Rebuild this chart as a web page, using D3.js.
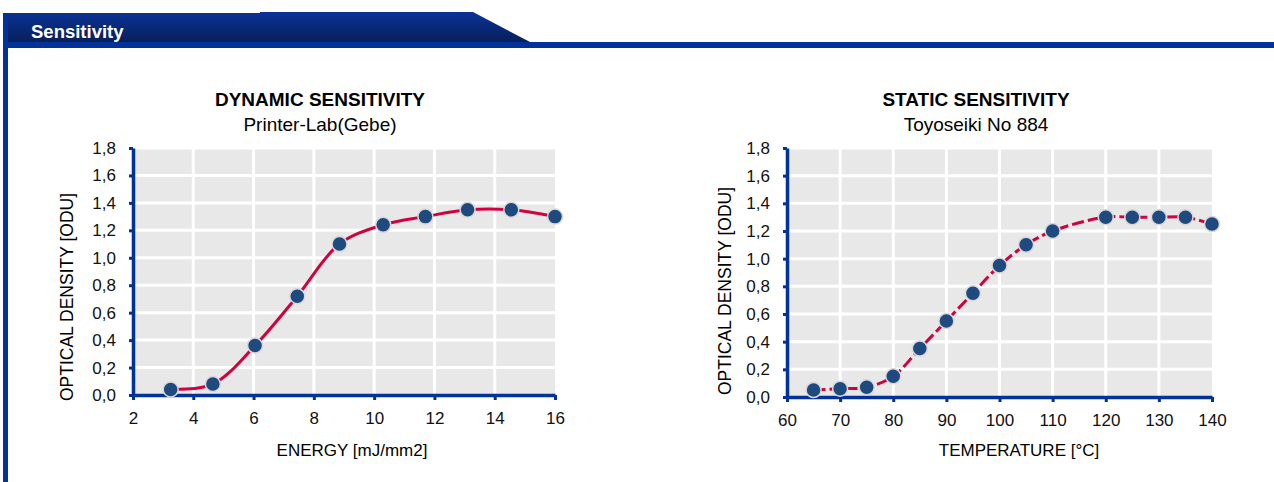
<!DOCTYPE html>
<html>
<head>
<meta charset="utf-8">
<script src="https://cdn.jsdelivr.net/npm/d3@7"></script>
<style>
  body { margin: 0; background: #fff; }
  svg text { font-family: "Liberation Sans", Arial, sans-serif; }
</style>
</head>
<body>
<div id="chart"></div>
<script>
// data
const energy = [3.25, 4.65, 6.05, 7.45, 8.85, 10.3, 11.7, 13.1, 14.55, 16.0];
const energyOD = [0.04, 0.08, 0.36, 0.72, 1.10, 1.24, 1.30, 1.35, 1.35, 1.30];
const temperature = [65, 70, 75, 80, 85, 90, 95, 100, 105, 110, 120, 125, 130, 135, 140];
const temperatureOD = [0.05, 0.06, 0.07, 0.15, 0.35, 0.55, 0.75, 0.95, 1.10, 1.20, 1.30, 1.30, 1.30, 1.30, 1.25];
const yTicks = [0, 0.2, 0.4, 0.6, 0.8, 1.0, 1.2, 1.4, 1.6, 1.8];
const energyTicks = [2, 4, 6, 8, 10, 12, 14, 16];
const tempTicks = [60, 70, 80, 90, 100, 110, 120, 130, 140];

const W = 1274, H = 482;
const blue = "#003399";

const svg = d3.select("#chart").append("svg")
    .attr("width", W)
    .attr("height", H);

// header gradient
const defs = svg.append("defs");
const grad = defs.append("linearGradient").attr("id", "hdr").attr("x1", 0).attr("y1", 0).attr("x2", 0).attr("y2", 1);
grad.append("stop").attr("offset", "0%").attr("stop-color", "#0a3396");
grad.append("stop").attr("offset", "100%").attr("stop-color", "#081f5a");

// header tab + rule + left stripe
svg.append("path")
    .attr("d", "M5,13 L260,13 L260,12 L473,12 L530,42 L5,42 Z")
    .attr("fill", "url(#hdr)");
svg.append("rect").attr("x", 3).attr("y", 42).attr("width", W - 3).attr("height", 6).attr("fill", blue);
svg.append("rect").attr("x", 3).attr("y", 13).attr("width", 5).attr("height", H - 13).attr("fill", blue);
svg.append("text")
    .attr("x", 31).attr("y", 38)
    .style("font-weight", "bold")
    .style("font-size", "18.5px")
    .attr("fill", "#fff")
    .text("Sensitivity");

function drawChart(opt) {
    const x = d3.scaleLinear().domain(opt.xDomain).range([opt.left, opt.right]);
    const y = d3.scaleLinear().domain([0, 1.8]).range([opt.bottom, opt.top]);
    const g = svg.append("g");

    // plot background
    g.append("rect")
        .attr("x", opt.left).attr("y", opt.top)
        .attr("width", opt.right - opt.left).attr("height", opt.bottom - opt.top)
        .attr("fill", "#e8e8e8");

    // white grid
    g.selectAll(".vg").data(opt.xTicks.slice(1, -1)).join("line")
        .attr("x1", d => x(d)).attr("x2", d => x(d))
        .attr("y1", opt.top).attr("y2", opt.bottom)
        .attr("stroke", "#fff").attr("stroke-width", 3);
    g.selectAll(".hg").data(yTicks.slice(1)).join("line")
        .attr("x1", opt.left).attr("x2", opt.right)
        .attr("y1", d => y(d)).attr("y2", d => y(d))
        .attr("stroke", "#fff").attr("stroke-width", 3);

    // axes
    const xAxis = g.append("g")
        .attr("transform", `translate(0,${opt.bottom})`)
        .call(d3.axisBottom(x).tickValues(opt.xTicks).tickSize(5).tickPadding(12).tickSizeOuter(0));
    const yAxis = g.append("g")
        .attr("transform", `translate(${opt.left},0)`)
        .call(d3.axisLeft(y).tickValues(yTicks).tickSize(4).tickPadding(13).tickSizeOuter(0)
            .tickFormat(d => d3.format(".1f")(d).replace(".", ",")));
    [xAxis, yAxis].forEach(a => {
        a.select(".domain").attr("stroke", blue).attr("stroke-width", 3.5);
        a.selectAll(".tick line").attr("stroke", blue).attr("stroke-width", 3);
        a.selectAll(".tick text")
            .style("font-size", "17px")
            .attr("fill", "#111");
    });

    // curve
    const line = d3.line()
        .x((d, i) => x(opt.xs[i]))
        .y(d => y(d))
        .curve(d3.curveCatmullRom.alpha(0.5));
    g.append("path")
        .datum(opt.ys)
        .attr("d", line)
        .attr("fill", "none")
        .attr("stroke", "#d2003c")
        .attr("stroke-width", 3)
        .attr("stroke-dasharray", opt.dash || null);

    // markers
    g.selectAll(".pt").data(opt.ys).join("circle")
        .attr("cx", (d, i) => x(opt.xs[i]))
        .attr("cy", d => y(d))
        .attr("r", 7.5)
        .attr("fill", "#1f4a7f")
        .attr("stroke", "#d8d8d8")
        .attr("stroke-width", 1.5);

    // titles
    g.append("text")
        .attr("x", opt.titleX).attr("y", 106)
        .attr("text-anchor", "middle")
        .style("font-weight", "bold").style("font-size", "19px")
        .text(opt.title);
    g.append("text")
        .attr("x", opt.titleX).attr("y", 131)
        .attr("text-anchor", "middle")
        .style("font-size", "19px")
        .text(opt.subtitle);
    g.append("text")
        .attr("x", opt.xTitleX).attr("y", 456)
        .attr("text-anchor", "middle")
        .style("font-size", "17px")
        .text(opt.xTitle);
    g.append("text")
        .attr("transform", `translate(${opt.yTitleX},${opt.yTitleY}) rotate(-90)`)
        .attr("text-anchor", "middle")
        .style("font-size", "17.5px")
        .text("OPTICAL DENSITY [ODU]");
}

drawChart({
    xDomain: [2, 16], xTicks: energyTicks, xs: energy, ys: energyOD,
    left: 133, right: 555, top: 148, bottom: 395,
    title: "DYNAMIC SENSITIVITY", subtitle: "Printer-Lab(Gebe)", titleX: 320,
    xTitle: "ENERGY [mJ/mm2]", xTitleX: 352, yTitleX: 73, yTitleY: 297
});
drawChart({
    xDomain: [60, 140], xTicks: tempTicks, xs: temperature, ys: temperatureOD,
    left: 787, right: 1212, top: 148, bottom: 397,
    title: "STATIC SENSITIVITY", subtitle: "Toyoseiki No 884", titleX: 976,
    xTitle: "TEMPERATURE [°C]", xTitleX: 1019, yTitleX: 731, yTitleY: 291, dash: "12,4"
});
</script>
</body>
</html>
